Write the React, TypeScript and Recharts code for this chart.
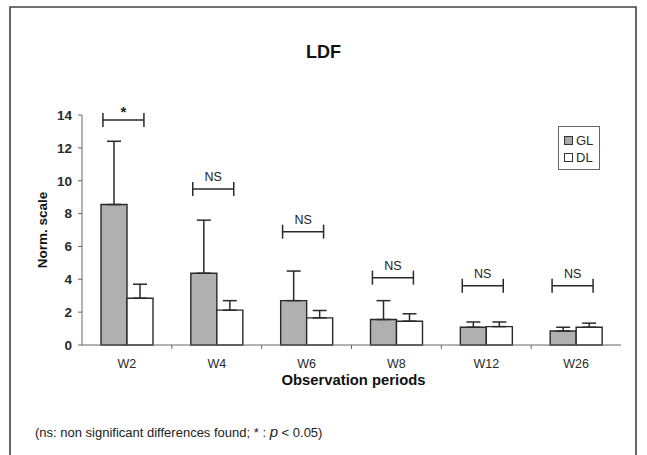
import React from 'react';
import { ComposedChart, Bar, Line, XAxis, YAxis, ErrorBar, Legend } from 'recharts';

const categories = ['W2', 'W4', 'W6', 'W8', 'W12', 'W26'];
const glValues = [8.55, 4.37, 2.7, 1.55, 1.08, 0.85];
const glUpper = [12.4, 7.6, 4.5, 2.7, 1.4, 1.08];
const dlValues = [2.85, 2.12, 1.65, 1.45, 1.12, 1.08];
const dlUpper = [3.7, 2.7, 2.1, 1.9, 1.4, 1.33];
const sigLabels = ['*', 'NS', 'NS', 'NS', 'NS', 'NS'];
const sigLevels = [13.7, 9.5, 6.9, 4.1, 3.6, 3.6];
const yTicks = [0, 2, 4, 6, 8, 10, 12, 14];
const seriesOrder = ['GL', 'DL'];

const data = categories.map((c, i) => ({
  name: c,
  GL: glValues[i],
  DL: dlValues[i],
  glErr: [0, +(glUpper[i] - glValues[i]).toFixed(3)],
  dlErr: [0, +(dlUpper[i] - dlValues[i]).toFixed(3)],
  sig: sigLevels[i],
  sigLabel: sigLabels[i],
}));

const W = 647;
const H = 455;
const margin = { top: 115, right: 26, bottom: 80, left: 22 };
const yAxisWidth = 60;
const band = (W - margin.left - margin.right - yAxisWidth) / categories.length;
const FONT = '"Liberation Sans", Arial, sans-serif';
const INK = '#2a2a2a';

const Bracket = (props: any) => {
  const { cx, cy, index, payload } = props;
  if (cx == null || cy == null) return <g key={`b${index}`} />;
  const left = cx - 24;
  const right = cx + 17;
  const mid = (left + right) / 2;
  const isStar = payload.sigLabel === '*';
  return (
    <g key={`b${index}`}>
      <line x1={left} x2={right} y1={cy} y2={cy} stroke={INK} strokeWidth={1.5} />
      <line x1={left} x2={left} y1={cy - 7} y2={cy + 7} stroke={INK} strokeWidth={1.5} />
      <line x1={right} x2={right} y1={cy - 7} y2={cy + 7} stroke={INK} strokeWidth={1.5} />
      <text
        x={mid}
        y={isStar ? cy - 3 : cy - 8}
        textAnchor="middle"
        fontFamily={FONT}
        fontSize={isStar ? 15 : 12.5}
        fontWeight={isStar ? 'bold' : 'normal'}
        fill="#222"
      >
        {payload.sigLabel}
      </text>
    </g>
  );
};

const XTick = (props: any) => {
  const { x, y, payload, index } = props;
  const axisY = y - 6 - 8;
  return (
    <g>
      {index < categories.length - 1 && (
        <line x1={x + band / 2} x2={x + band / 2} y1={axisY} y2={axisY + 4} stroke="#666" strokeWidth={1} />
      )}
      <text x={x} y={y} dy="0.71em" textAnchor="middle" fontFamily={FONT} fontSize={12.5} fill={INK}>
        {payload.value}
      </text>
    </g>
  );
};

const LegendContent = (props: any) => {
  const items = seriesOrder
    .map((name) => (props.payload || []).find((p: any) => p.value === name))
    .filter(Boolean);
  return (
    <div
      style={{
        border: '1.2px solid #666',
        width: 42,
        height: 44,
        boxSizing: 'border-box',
        padding: '5px 0 0 5px',
        fontFamily: FONT,
        fontSize: 13,
        color: INK,
        background: '#fff',
      }}
    >
      {items.map((p: any) => (
        <div key={p.value} style={{ display: 'flex', alignItems: 'center', height: 17 }}>
          <span
            style={{
              display: 'inline-block',
              width: 7,
              height: 7,
              border: '1px solid #333',
              background: p.value === 'GL' ? '#a9a9a9' : '#fff',
              marginRight: 3,
            }}
          />
          <span>{p.value}</span>
        </div>
      ))}
    </div>
  );
};

export default function App() {
  return (
    <div style={{ position: 'absolute', left: 0, top: 0, width: W, height: H, overflow: 'hidden', background: '#fff' }}>
      <svg width={W} height={H} style={{ position: 'absolute', left: 0, top: 0 }}>
        <path d="M10 470 L10 7 L636 7 L636 470" fill="none" stroke="#444" strokeWidth={1.6} />
      </svg>
      <div
        style={{
          position: 'absolute',
          left: 0,
          width: W,
          top: 42,
          textAlign: 'center',
          fontFamily: FONT,
          fontWeight: 'bold',
          fontSize: 18,
          color: '#111',
        }}
      >
        LDF
      </div>
      <div
        style={{
          position: 'absolute',
          left: 35,
          top: 423,
          fontFamily: FONT,
          fontSize: 13,
          color: '#222',
          whiteSpace: 'nowrap',
        }}
      >
        (ns: non significant differences found; * : <i style={{ fontSize: 15 }}>p</i> &lt; 0.05)
      </div>
      <div style={{ position: 'absolute', left: 0, top: 0 }}>
        <ComposedChart width={W} height={H} data={data} margin={margin} barGap={0} barSize={26}>
          <XAxis
            dataKey="name"
            height={30}
            stroke="#666"
            tickLine={false}
            tickSize={6}
            tickMargin={8}
            tick={<XTick />}
            label={{
              content: (p: any) => {
                const vb = p.viewBox;
                return (
                  <text
                    x={vb.x + vb.width / 2 + 2}
                    y={vb.y + 40}
                    textAnchor="middle"
                    fontFamily={FONT}
                    fontWeight="bold"
                    fontSize={14.8}
                    fill="#111"
                  >
                    Observation periods
                  </text>
                );
              },
            }}
          />
          <YAxis
            width={yAxisWidth}
            domain={[0, 14]}
            ticks={yTicks}
            interval={0}
            stroke="#666"
            tickSize={4}
            tickMargin={6}
            tick={{ fontFamily: FONT, fontSize: 13.5, fontWeight: 'bold', fill: INK }}
            label={{
              content: (p: any) => {
                const vb = p.viewBox;
                const cx = vb.x + 20;
                const cy = vb.y + vb.height / 2;
                return (
                  <text
                    x={cx}
                    y={cy}
                    transform={`rotate(-90 ${cx} ${cy})`}
                    textAnchor="middle"
                    dominantBaseline="central"
                    fontFamily={FONT}
                    fontWeight="bold"
                    fontSize={13.5}
                    fill="#111"
                  >
                    Norm. scale
                  </text>
                );
              },
            }}
          />
          <Legend
            layout="horizontal"
            verticalAlign="middle"
            align="center"
            content={<LegendContent />}
            wrapperStyle={{ position: 'absolute', left: 558, top: 126, width: 42, height: 44 }}
          />
          <Bar dataKey="GL" fill="#b0b0b0" stroke={INK} strokeWidth={1.4} isAnimationActive={false}>
            <ErrorBar dataKey="glErr" direction="y" width={7} stroke={INK} strokeWidth={1.5} />
          </Bar>
          <Bar dataKey="DL" fill="#ffffff" stroke={INK} strokeWidth={1.4} isAnimationActive={false}>
            <ErrorBar dataKey="dlErr" direction="y" width={7} stroke={INK} strokeWidth={1.5} />
          </Bar>
          <Line
            dataKey="sig"
            stroke="none"
            legendType="none"
            dot={Bracket}
            activeDot={false}
            isAnimationActive={false}
          />
        </ComposedChart>
      </div>
    </div>
  );
}
